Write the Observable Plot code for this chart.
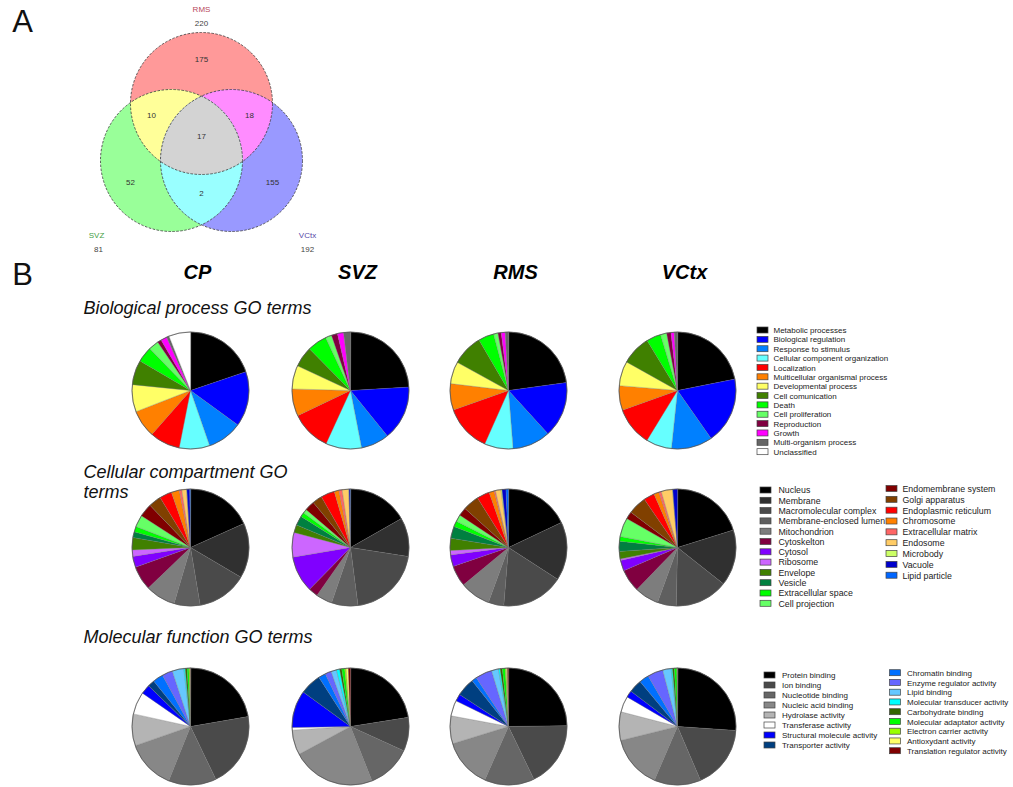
<!DOCTYPE html>
<html><head><meta charset="utf-8">
<script src="https://cdn.jsdelivr.net/npm/d3@7"></script>
<script src="https://cdn.jsdelivr.net/npm/@observablehq/plot@0.6"></script>
<style>body{margin:0;background:#fff}#chart{width:1013px;height:787px}</style>
</head><body><div id="chart"></div>
<script>
// ---------------- DATA ----------------
// Venn (panel A)
const vennSets = ["RMS", "SVZ", "VCtx"];
const vennTotals = [220, 81, 192];
const vennRegionMasks = [[1,0,0],[0,1,0],[0,0,1],[1,1,0],[1,0,1],[0,1,1],[1,1,1]];
const vennRegionCounts = [175, 52, 155, 10, 18, 2, 17];

// Panel B
const regions = ["CP", "SVZ", "RMS", "VCtx"];
const sectionTitles = ["Biological process GO terms", "Cellular compartment GO\nterms", "Molecular function GO terms"];

const bpCategories = ["Metabolic processes","Biological regulation","Response to stimulus","Cellular component organization","Localization","Multicellular organismal process","Developmental process","Cell comunication","Death","Cell proliferation","Reproduction","Growth","Multi-organism process","Unclassified"];
const bpCP   = [19.8,15.2,9.7,8.4,8.4,7.6,7.5,6.8,4.3,2.8,1.1,1.7,0.7,6.0];
const bpSVZ  = [24.1,15.1,7.8,9.9,11.1,7.5,6.5,5.7,5.4,1.7,1.7,1.7,1.9,0];
const bpRMS  = [22.8,15.4,10.5,7.9,12.9,7.3,6.1,8.6,4.3,1.2,0.9,1.1,0.9,0];
const bpVCtx = [21.9,18.4,11.4,7.1,10.8,6.8,6.8,8.2,4.0,1.7,1.2,0.9,0.9,0];

const ccCategories = ["Nucleus","Membrane","Macromolecular complex","Membrane-enclosed lumen","Mitochondrion","Cytoskelton","Cytosol","Ribosome","Envelope","Vesicle","Extracellular space","Cell projection","Endomembrane system","Golgi apparatus","Endoplasmic reticulum","Chromosome","Extracellular matrix","Endosome","Microbody","Vacuole","Lipid particle"];
const ccCP   = [18.3,15.2,13.9,7.2,8.3,6.7,3.0,1.8,3.4,1.6,1.5,3.3,3.7,3.5,3.4,2.2,0.7,1.3,0.1,0.8,0.2];
const ccSVZ  = [16.8,10.7,20.5,7.3,4.5,2.6,10.0,6.8,2.2,2.6,1.2,1.1,2.8,2.7,3.8,1.3,0.9,1.8,0.1,0.3,0.1];
const ccRMS  = [18.0,16.2,17.2,4.3,8.4,5.8,3.2,1.2,3.4,3.3,1.6,1.9,2.3,4.5,3.5,1.4,0.4,1.5,0.3,1.1,0.7];
const ccVCtx = [20.2,15.5,14.7,5.2,6.7,6.3,2.9,0.4,2.1,2.8,1.3,5.2,2.1,5.1,3.0,1.4,0.7,3.1,0.1,1.3,0];

const mfCategories = ["Protein binding","Ion binding","Nucleotide binding","Nucleic acid binding","Hydrolase activity","Transferase activity","Structural molecule activity","Transporter activity","Chromatin binding","Enzyme regulator activity","Lipid binding","Molecular transducer activity","Carbohydrate binding","Molecular adaptator activity","Electron carrier activity","Antioxydant activity","Translation regulator activity"];
const mfCP   = [22.3,20.6,13.2,13.6,8.8,6.2,2.6,1.9,2.9,2.9,3.2,0.4,0.5,0.5,0.3,0.1,0.05];
const mfSVZ  = [22.5,9.3,12.2,23.1,6.9,0.7,10.3,5.9,2.0,1.7,1.5,0.9,0.6,0.8,0.4,0.6,0.6];
const mfRMS  = [24.8,18.1,13.8,13.6,7.7,4.3,2.0,5.1,1.4,4.6,1.9,0.5,0.6,0.8,0.3,0.3,0.3];
const mfVCtx = [26.1,17.5,12.9,14.7,7.9,4.4,1.9,3.6,2.7,4.3,2.3,0.4,0.5,0.7,0.1,0.05,0.03];

// ---------------- STYLES ----------------
const bpColors = ["#000000","#0000ff","#0080ff","#66ffff","#ff0000","#ff8000","#ffff66","#408000","#00ff00","#66ff66","#800040","#ff00ff","#666666","#ffffff"];
const ccColors = ["#000000","#303030","#4a4a4a","#5f5f5f","#7d7d7d","#800040","#8000ff","#cc66ff","#408000","#008040","#00ff00","#66ff66","#800000","#804000","#ff0000","#ff8000","#ff6666","#ffcc66","#ccff66","#0000cc","#0066ff"];
const mfColors = ["#000000","#4a4a4a","#666666","#878787","#b4b4b4","#ffffff","#0000ff","#003f80","#0070ff","#6666ff","#66c8ff","#00ffff","#336600","#00ff00","#99ff00","#ffff66","#800000"];
const vennSetColors = ["#ff9999","#99ff99","#9999ff"];
const vennLabelColors = ["#b8475a","#44a044","#5548a8"];
const vennOverlapColors = {"1,1,0":"#ffff99","1,0,1":"#ff8cff","0,1,1":"#99ffff","1,1,1":"#d3d3d3"};
const FONT = "'Liberation Sans', Arial, Helvetica, sans-serif";

// ---------------- LAYOUT ----------------
const W = 1013, H = 787;
const vennCenters = [[201,103],[171,160],[231,160]];
const vennR = 71;
const vennLabelOffsets = [[0,-94],[-75,75],[76,75]];
// label anchor for each Venn region, relative to the RMS circle centre
const vennCountOffsets = [[0,-44],[-71,79],[71,79],[-50,12],[48,12],[0,90],[0,33]];
const pieX = [190, 350, 508, 677];
const pieY = [390, 547, 726];
const pieR = 58.5;
const legendCols = [
  [{n:14, sx:757, tx:773, y0:330, dy:9.36, fs:8}],
  [{n:12, sx:760, tx:778, y0:490, dy:10.3, fs:8.8}, {n:9, sx:886, tx:902, y0:488.5, dy:10.84, fs:8.8}],
  [{n:8, sx:764, tx:781.5, y0:675, dy:10, fs:8}, {n:9, sx:889.5, tx:906.5, y0:672.7, dy:9.75, fs:8}]
];

// ---------------- BUILD ----------------
const sections = [
  {cats: bpCategories, colors: bpColors, series: [bpCP, bpSVZ, bpRMS, bpVCtx]},
  {cats: ccCategories, colors: ccColors, series: [ccCP, ccSVZ, ccRMS, ccVCtx]},
  {cats: mfCategories, colors: mfColors, series: [mfCP, mfSVZ, mfRMS, mfVCtx]}
];

// Pie slices as closed polygons (center + arc samples)
const slicePts = [];
const pieCenters = [];
sections.forEach((sec, si) => {
  sec.series.forEach((vals, ci) => {
    const cx = pieX[ci], cy = pieY[si];
    pieCenters.push({x: cx, y: cy});
    const arcs = d3.pie().sort(null).value(d => d)(vals);
    arcs.forEach((a, i) => {
      const span = a.endAngle - a.startAngle;
      if (span <= 0) return;
      const id = `${si}-${ci}-${i}`;
      const color = sec.colors[i];
      slicePts.push({id, x: cx, y: cy, color});
      const n = Math.max(2, Math.ceil(span / (Math.PI / 360)));
      for (let k = 0; k <= n; k++) {
        const t = a.startAngle + span * k / n;
        slicePts.push({id, x: cx + pieR * Math.sin(t), y: cy - pieR * Math.cos(t), color});
      }
    });
  });
});

// Venn
const vennCircles = vennSets.map((s, i) => ({name: s, x: vennCenters[i][0], y: vennCenters[i][1], color: vennSetColors[i]}));
function intersectionPolygon(idx) {
  const cs = idx.map(i => vennCircles[i]);
  const pts = [];
  const N = 1440;
  cs.forEach((c, i) => {
    for (let k = 0; k < N; k++) {
      const t = 2 * Math.PI * k / N;
      const p = [c.x + vennR * Math.cos(t), c.y + vennR * Math.sin(t)];
      if (cs.every((o, j) => j === i || Math.hypot(p[0] - o.x, p[1] - o.y) <= vennR + 1e-9)) pts.push(p);
    }
  });
  const mx = d3.mean(pts, p => p[0]), my = d3.mean(pts, p => p[1]);
  pts.sort((a, b) => Math.atan2(a[1] - my, a[0] - mx) - Math.atan2(b[1] - my, b[0] - mx));
  return pts;
}
const overlapPts = [];
[[0,1],[0,2],[1,2],[0,1,2]].forEach(idx => {
  const mask = [0,1,2].map(i => idx.includes(i) ? 1 : 0).join(",");
  intersectionPolygon(idx).forEach(p => overlapPts.push({id: mask, x: p[0], y: p[1], color: vennOverlapColors[mask]}));
});
const vennCountLabels = vennRegionCounts.map((v, i) => ({
  x: vennCircles[0].x + vennCountOffsets[i][0],
  y: vennCircles[0].y + vennCountOffsets[i][1],
  text: String(v)
}));
const vennSetLabels = vennCircles.map((c, i) => ({x: c.x + vennLabelOffsets[i][0], y: c.y + vennLabelOffsets[i][1], text: c.name, color: vennLabelColors[i]}));
const vennTotalLabels = vennCircles.map((c, i) => ({x: c.x + vennLabelOffsets[i][0] + (i === 1 ? 2 : 0), y: c.y + vennLabelOffsets[i][1] + 14, text: String(vennTotals[i])}));

// Legends
const legendSw = [];
const legendTx = [];
sections.forEach((sec, si) => {
  let start = 0;
  legendCols[si].forEach(col => {
    for (let k = 0; k < col.n; k++) {
      const i = start + k;
      const yc = col.y0 + k * col.dy;
      legendSw.push({x1: col.sx, x2: col.sx + 11, y1: yc - 3, y2: yc + 3, color: sec.colors[i]});
      legendTx.push({x: col.tx, y: yc, text: sec.cats[i], fs: col.fs});
    }
    start += col.n;
  });
});

const headerLabels = regions.map((r, i) => ({x: pieX[i] + 7, y: 272, text: r}));
const titleLabels = [
  {x: 83, y: 307, text: sectionTitles[0]},
  {x: 83, y: 481, text: sectionTitles[1]},
  {x: 83, y: 636, text: sectionTitles[2]}
];
const panelLabels = [{x: 22, y: 22, text: "A"}, {x: 22, y: 275, text: "B"}];

const plot = Plot.plot({
  width: W, height: H, margin: 0,
  x: {domain: [0, W], range: [0, W], axis: null},
  y: {domain: [0, H], range: [0, H], axis: null},
  color: {type: "identity"},
  style: {fontFamily: FONT, background: "#ffffff", overflow: "visible"},
  marks: [
    // Venn
    Plot.dot(vennCircles, {x: "x", y: "y", r: vennR, fill: "color", stroke: "none"}),
    Plot.line(overlapPts, {x: "x", y: "y", z: "id", fill: "color", stroke: "none", curve: "linear-closed"}),
    Plot.dot(vennCircles, {x: "x", y: "y", r: vennR, fill: "none", stroke: "#3a3a3a", strokeWidth: 0.8, strokeDasharray: "2.5,1.5"}),
    Plot.text(vennCountLabels, {x: "x", y: "y", text: "text", fontSize: 8, fill: "#333"}),
    Plot.text(vennSetLabels, {x: "x", y: "y", text: "text", fontSize: 8, fill: "color"}),
    Plot.text(vennTotalLabels, {x: "x", y: "y", text: "text", fontSize: 8, fill: "#444"}),
    // panel labels
    Plot.text(panelLabels, {x: "x", y: "y", text: "text", fontSize: 31, fill: "#111"}),
    Plot.text(headerLabels, {x: "x", y: "y", text: "text", fontSize: 20, fontWeight: "bold", fontStyle: "italic", fill: "#000"}),
    Plot.text(titleLabels, {x: "x", y: "y", text: "text", fontSize: 18, fontStyle: "italic", textAnchor: "start", lineHeight: 1.15, fill: "#111"}),
    // Pies
    Plot.line(slicePts, {x: "x", y: "y", z: "id", fill: "color", stroke: "#777", strokeWidth: 0.35, curve: "linear-closed"}),
    Plot.dot(pieCenters, {x: "x", y: "y", r: pieR, fill: "none", stroke: "#555", strokeWidth: 0.8}),
    // Legends
    Plot.rect(legendSw, {x1: "x1", x2: "x2", y1: "y1", y2: "y2", fill: "color", stroke: "#444", strokeWidth: 0.7}),
    Plot.text(legendTx, {x: "x", y: "y", text: "text", fontSize: d => d.fs, textAnchor: "start", fill: "#222"})
  ]
});
document.getElementById("chart").appendChild(plot);
</script>
</body></html>
